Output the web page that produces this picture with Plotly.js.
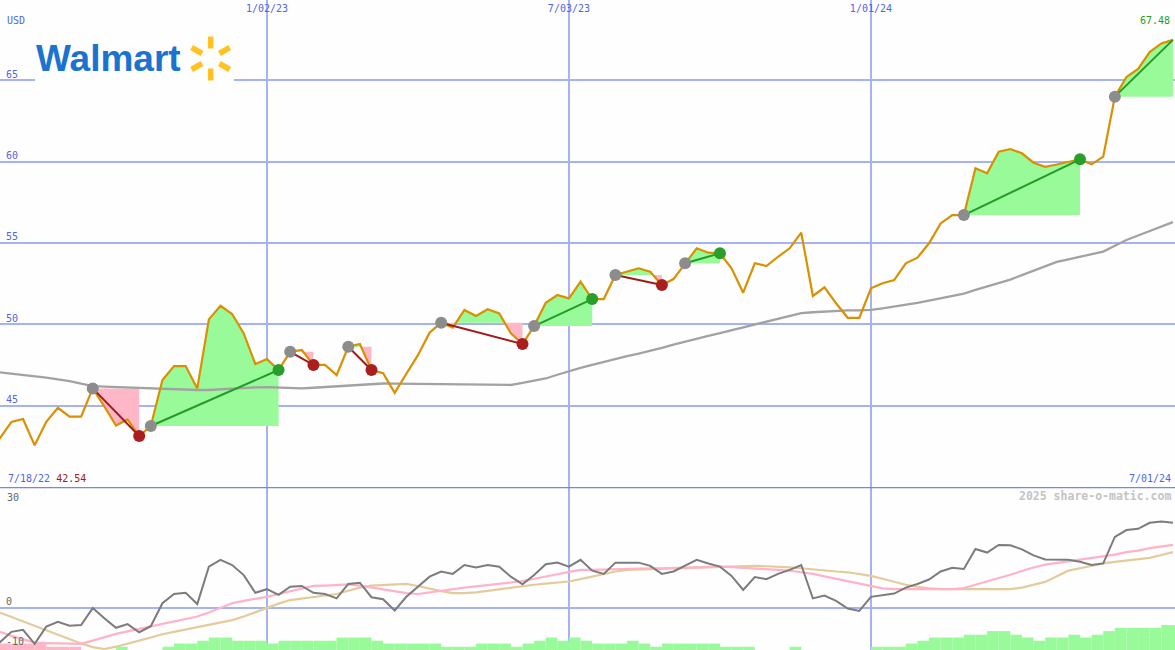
<!DOCTYPE html>
<html>
<head>
<meta charset="utf-8">
<script src="https://cdn.plot.ly/plotly-3.0.1.min.js"></script>
<style>html,body{margin:0;padding:0;background:#fdfefd;}#chart{width:1175px;height:650px;}</style>
</head>
<body>
<div id="chart"></div>
<script>
// ---- data (weekly, from 7/18/22) ----
const firstWeek = Date.UTC(2022, 6, 18);
const WEEK = 7 * 86400000;
const weekCount = 103;
const dates = [];
for (let i = 0; i < weekCount; i++) dates.push(firstWeek + i * WEEK);

const price = [42.54,42.99,44.00,44.18,42.56,44.01,44.87,44.32,44.32,46.06,
  44.95,43.78,44.15,43.13,43.75,46.57,47.43,47.43,46.06,50.30,
  51.14,50.63,49.44,47.56,47.86,47.19,48.31,48.42,47.50,47.50,
  46.88,48.62,48.79,47.19,46.99,45.79,46.96,48.10,49.48,50.10,
  49.79,50.88,50.51,50.92,50.67,49.44,48.79,49.89,51.32,51.80,
  51.59,52.62,51.55,51.55,53.03,53.23,53.44,53.23,52.41,52.78,
  53.75,54.67,54.40,54.36,53.44,51.94,53.75,53.58,54.15,54.67,
  55.63,51.74,52.27,51.29,50.40,50.40,52.21,52.52,52.72,53.75,
  54.09,54.98,56.20,56.71,56.71,59.59,59.28,60.61,60.77,60.51,
  59.93,59.68,59.82,59.99,60.14,59.83,60.30,63.99,65.20,65.69,
  66.73,67.26,67.48];

const ma40 = [47.13,47.05,46.98,46.90,46.82,46.72,46.61,46.51,46.35,46.20,
  46.17,46.14,46.12,46.10,46.08,46.04,46.00,45.96,45.96,45.96,
  46.01,46.06,46.09,46.12,46.14,46.11,46.08,46.06,46.10,46.15,
  46.20,46.24,46.28,46.32,46.36,46.35,46.34,46.33,46.32,46.31,
  46.30,46.29,46.29,46.28,46.27,46.27,46.40,46.53,46.67,46.90,
  47.13,47.32,47.51,47.70,47.89,48.05,48.20,48.36,48.55,48.75,
  48.94,49.11,49.29,49.46,49.63,49.81,49.98,50.16,50.34,50.51,
  50.69,50.74,50.78,50.83,50.85,50.86,50.88,50.98,51.08,51.18,
  51.32,51.46,51.61,51.75,51.89,52.11,52.32,52.54,52.75,53.02,
  53.29,53.56,53.83,53.99,54.15,54.31,54.47,54.83,55.18,55.46,
  55.73,56.00,56.28];

const osc = [-9.5,-8.6,-6.0,-5.5,-9.0,-4.7,-3.5,-4.5,-4.3,-0.1,
  -2.6,-5.0,-4.1,-6.1,-4.6,1.1,3.4,3.7,0.9,10.2,
  11.9,10.6,8.1,3.7,4.6,3.2,5.2,5.4,3.7,3.4,
  2.3,5.9,6.2,2.6,2.1,-0.7,2.7,5.1,7.7,9.0,
  8.4,10.6,10.0,10.6,10.2,7.7,5.8,8.1,10.8,11.2,
  10.2,11.9,9.2,8.4,11.2,11.2,11.2,10.4,8.4,9.0,
  10.4,11.9,11.0,10.2,7.9,4.4,7.6,7.1,8.4,9.4,
  10.6,2.3,3.0,1.7,-0.2,-0.8,2.7,3.1,3.5,5.0,
  5.9,7.0,9.0,9.9,9.6,14.6,13.7,15.6,15.5,14.5,
  13.0,12.0,11.9,11.9,11.4,10.6,11.0,17.6,19.3,19.6,
  21.1,21.4,21.1];

const oscFast = [-5.5,-6.0,-7.0,-7.9,-8.7,-8.8,-8.9,-9.0,-9.0,-8.2,
  -7.3,-6.5,-5.9,-5.3,-4.7,-4.1,-3.4,-2.8,-2.2,-1.2,
  0.0,1.1,1.7,2.2,2.7,3.4,4.1,4.8,5.4,5.5,
  5.6,5.8,5.5,5.0,4.5,4.0,3.6,3.4,3.8,4.3,
  4.7,5.0,5.3,5.6,5.9,6.2,6.6,7.2,7.7,8.3,
  8.9,9.4,9.4,9.5,9.6,9.6,9.7,9.8,9.8,9.9,
  10.0,10.0,10.1,10.2,10.1,9.9,9.7,9.5,9.4,9.2,
  8.8,8.4,7.8,7.2,6.6,5.9,5.3,4.8,4.6,4.6,
  4.6,4.6,4.6,4.6,4.9,5.7,6.5,7.4,8.2,9.1,
  10.0,10.7,11.1,11.5,11.9,12.3,12.8,13.2,13.8,14.2,
  14.8,15.2,15.6];

const oscSlow = [-0.1,-1.2,-2.3,-3.4,-4.5,-5.6,-6.8,-7.9,-8.9,-9.8,
  -10.3,-9.7,-9.0,-8.2,-7.4,-6.6,-6.0,-5.4,-4.8,-4.2,
  -3.7,-3.1,-2.2,-1.1,0.0,1.0,1.9,2.3,2.6,3.0,
  3.4,4.2,5.0,5.5,5.6,5.7,5.9,5.4,4.7,4.1,
  3.6,3.6,3.8,4.2,4.6,5.0,5.4,5.7,6.0,6.2,
  6.5,7.1,7.7,8.4,9.0,9.4,9.5,9.6,9.6,9.7,
  9.8,9.9,10.0,10.2,10.3,10.4,10.4,10.3,10.2,10.0,
  9.8,9.5,9.3,9.0,8.8,8.4,7.9,7.2,6.5,5.7,
  5.2,4.8,4.6,4.6,4.6,4.6,4.6,4.6,4.6,5.0,
  5.7,6.4,7.8,9.2,9.8,10.4,11.0,11.4,11.7,12.0,
  12.4,13.1,13.8];

const hist = [-1.6,-1.6,-1.6,-1.6,-1.6,-0.8,-0.8,-0.8,0,0,
  0,0.8,0,0,0,0.8,1.6,1.6,2.3,3.1,
  3.1,2.3,2.3,2.3,1.6,2.3,2.3,2.3,2.3,2.3,
  3.1,3.1,3.1,2.3,1.6,1.6,1.6,1.6,1.6,0.8,
  0.8,0.8,1.6,1.6,1.6,0.8,1.6,2.3,3.1,2.3,
  3.1,2.3,1.6,1.6,1.6,2.3,1.6,0.8,1.6,1.6,
  1.6,1.6,1.6,0.8,0.8,0.8,0,0,0,0.8,
  0,0,0,0,0,0,0.8,0.8,0.8,1.6,
  2.3,3.1,3.1,3.1,3.8,3.8,4.7,4.7,3.8,3.1,
  2.3,3.1,3.1,3.8,3.1,3.8,4.7,5.5,5.5,5.5,
  5.5,6.2,6.2];

// swing segments: [start week, end week, closed?]
const swingStart = [9, 14, 26, 31, 39, 47, 54, 60, 84, 97];
const swingEnd   = [13, 25, 28, 33, 46, 52, 58, 63, 94, 102];
const swingClosed = [true,true,true,true,true,true,true,true,true,false];

const xTickVals = [Date.UTC(2023,0,2), Date.UTC(2023,6,3), Date.UTC(2024,0,1)];
const xTickText = ['1/02/23', '7/03/23', '1/01/24'];
const priceTicks = [45, 50, 55, 60, 65];
const oscGridTicks = [0];
const oscLabelTicks = [30, -10];

// ---- styles ----
const BG = '#fdfefd';
const GRID = '#a6b3f2';
const BLUE_TXT = '#5066e8';
const GRAY_TXT = '#666666';
const MONO = 'DejaVu Sans Mono, monospace';
const GREEN_FILL = '#98fa98';
const PINK_FILL = '#ffb6c6';
const OSC_BOTTOM = -10.52;

const traces = [];

// swing fills
function segPoints(a, b, L) {
  const xs = [], ys = [];
  for (let k = a; k <= b; k++) {
    xs.push(dates[k]); ys.push(price[k]);
    if (k < b) {
      const p0 = price[k] - L, p1 = price[k + 1] - L;
      if (p0 * p1 < 0) {
        const t = -p0 / (p1 - p0);
        xs.push(dates[k] + t * (dates[k + 1] - dates[k]));
        ys.push(L);
      }
    }
  }
  return {xs, ys};
}
for (let s = 0; s < swingStart.length; s++) {
  const a = swingStart[s], b = swingEnd[s], L = price[a];
  const {xs, ys} = segPoints(a, b, L);
  const base = xs.map(() => L);
  const common = {xaxis: 'x', yaxis: 'y', mode: 'lines', line: {width: 0}, hoverinfo: 'skip'};
  traces.push(Object.assign({x: xs, y: base}, common));
  traces.push(Object.assign({x: xs, y: ys.map(v => Math.max(v, L)), fill: 'tonexty', fillcolor: GREEN_FILL}, common));
  traces.push(Object.assign({x: xs, y: base}, common));
  traces.push(Object.assign({x: xs, y: ys.map(v => Math.min(v, L)), fill: 'tonexty', fillcolor: PINK_FILL}, common));
}

// moving average
traces.push({x: dates, y: ma40, xaxis: 'x', yaxis: 'y', mode: 'lines', line: {color: '#a2a2a2', width: 2.3}, hoverinfo: 'skip'});
// price
traces.push({x: dates, y: price, xaxis: 'x', yaxis: 'y', mode: 'lines', line: {color: '#da9000', width: 2.2}, hoverinfo: 'skip'});

// swing connectors and markers
const mx = [], my = [], mc = [];
for (let s = 0; s < swingStart.length; s++) {
  const a = swingStart[s], b = swingEnd[s];
  const up = price[b] >= price[a];
  traces.push({x: [dates[a], dates[b]], y: [price[a], price[b]], xaxis: 'x', yaxis: 'y', mode: 'lines',
    line: {color: up ? '#259a25' : '#a01c1c', width: 2}, hoverinfo: 'skip'});
  mx.push(dates[a]); my.push(price[a]); mc.push('#8c8c8c');
  if (swingClosed[s]) { mx.push(dates[b]); my.push(price[b]); mc.push(up ? '#2a9e2a' : '#aa1e1e'); }
}
traces.push({x: mx, y: my, xaxis: 'x', yaxis: 'y', mode: 'markers', marker: {color: mc, size: 12, line: {width: 0}}, hoverinfo: 'skip'});

// lower panel
traces.push({type: 'bar', x: dates, y: hist.map(Math.abs), base: OSC_BOTTOM, offset: 0, width: WEEK,
  xaxis: 'x2', yaxis: 'y2', marker: {color: hist.map(v => v < 0 ? PINK_FILL : GREEN_FILL), line: {width: 0}}, hoverinfo: 'skip'});
traces.push({x: dates, y: oscSlow, xaxis: 'x2', yaxis: 'y2', mode: 'lines', line: {color: '#e4cb9c', width: 2.2}, hoverinfo: 'skip'});
traces.push({x: dates, y: oscFast, xaxis: 'x2', yaxis: 'y2', mode: 'lines', line: {color: '#ffb2c8', width: 2.2}, hoverinfo: 'skip'});
traces.push({x: dates, y: osc, xaxis: 'x2', yaxis: 'y2', mode: 'lines', line: {color: '#7c7c7c', width: 2}, hoverinfo: 'skip'});

// ---- layout ----
const W = 1175, H = 650;
const px = v => v / W, py = v => 1 - v / H;
const fmtDate = ms => { const d = new Date(ms); return (d.getUTCMonth() + 1) + '/' + String(d.getUTCDate()).padStart(2, '0') + '/' + String(d.getUTCFullYear()).slice(2); };
const xRange = [Date.UTC(2022, 6, 25, 2, 40), Date.UTC(2024, 6, 2, 6, 0)];
const split = 1 - 487 / H;

const shapes = [
  {type: 'line', xref: 'paper', yref: 'y2', x0: 0, x1: 1, y0: 30, y1: 30, line: {color: '#7486ee', width: 2.5}},
  {type: 'rect', xref: 'paper', yref: 'paper', x0: px(35), x1: px(234), y0: py(84), y1: py(32), fillcolor: BG, line: {width: 0}, layer: 'above'}
];
// spark petals
const cx = 210.7, cy = 58.5;
[90, 30, -30, -90, 150, 210].forEach(deg => {
  const r = deg * Math.PI / 180;
  shapes.push({type: 'line', xref: 'paper', yref: 'paper', layer: 'above',
    x0: px(cx + 10 * Math.cos(r)), y0: py(cy - 10 * Math.sin(r)),
    x1: px(cx + 22 * Math.cos(r)), y1: py(cy - 22 * Math.sin(r)),
    line: {color: '#ffc220', width: 5.5}});
});

const minPrice = Math.min(...price);
const annotations = [
  {xref: 'paper', yref: 'paper', x: px(5), y: py(21), xanchor: 'left', yanchor: 'middle', showarrow: false,
    text: 'USD', font: {family: MONO, size: 10, color: BLUE_TXT}},
  {xref: 'paper', yref: 'paper', x: px(34), y: py(59), xanchor: 'left', yanchor: 'middle', showarrow: false,
    text: '<b>Walmart</b>', font: {family: 'Liberation Sans, Arial, sans-serif', size: 37, color: '#1a73cf'}},
  {xref: 'paper', yref: 'paper', x: px(1172), y: py(20), xanchor: 'right', yanchor: 'middle', showarrow: false,
    text: price[price.length - 1].toFixed(2), font: {family: MONO, size: 10, color: '#22a022'}},
  {xref: 'paper', yref: 'paper', x: px(6), y: py(478), xanchor: 'left', yanchor: 'middle', showarrow: false,
    text: '<span style="color:' + BLUE_TXT + '">' + fmtDate(dates[0]) + '</span> <span style="color:#a01818">' + minPrice.toFixed(2) + '</span>',
    font: {family: MONO, size: 10, color: BLUE_TXT}},
  {xref: 'paper', yref: 'paper', x: px(1173), y: py(478), xanchor: 'right', yanchor: 'middle', showarrow: false,
    text: fmtDate(dates[dates.length - 1]), font: {family: MONO, size: 10, color: BLUE_TXT}},
  {xref: 'paper', yref: 'paper', x: px(1173), y: py(496), xanchor: 'right', yanchor: 'middle', showarrow: false,
    text: '<b>2025 share-o-matic.com</b>', font: {family: MONO, size: 11.5, color: '#c4c4c4'}},
  {xref: 'paper', yref: 'y2', x: px(5), y: oscLabelTicks[0], xanchor: 'left', yanchor: 'top', yshift: -3, showarrow: false,
    text: String(oscLabelTicks[0]), font: {family: MONO, size: 10, color: GRAY_TXT}},
  {xref: 'paper', yref: 'y2', x: px(4), y: oscLabelTicks[1], xanchor: 'left', yanchor: 'middle', yshift: 6, showarrow: false,
    text: String(oscLabelTicks[1]), font: {family: MONO, size: 10, color: GRAY_TXT}}
];

const layout = {
  width: W, height: H,
  margin: {l: 0, r: 0, t: 0, b: 0, pad: 0},
  paper_bgcolor: BG, plot_bgcolor: BG,
  showlegend: false,
  hovermode: false,
  xaxis: {type: 'date', range: xRange, domain: [0, 1], anchor: 'y', side: 'top',
    tickmode: 'array', tickvals: xTickVals, ticktext: xTickText,
    ticklabelposition: 'inside', ticklabelstandoff: 2, ticks: '', showline: false, zeroline: false,
    showgrid: true, gridcolor: GRID, gridwidth: 2,
    tickfont: {family: MONO, size: 10, color: BLUE_TXT}},
  yaxis: {range: [40, 69.93], domain: [split, 1], anchor: 'x',
    tickmode: 'array', tickvals: priceTicks, ticktext: priceTicks.map(String),
    ticklabelposition: 'inside', ticklabelshift: -6, ticklabelstandoff: 3, ticks: '', showline: false, zeroline: false,
    showgrid: true, gridcolor: GRID, gridwidth: 2,
    tickfont: {family: MONO, size: 10, color: BLUE_TXT}},
  xaxis2: {type: 'date', range: xRange, domain: [0, 1], anchor: 'y2', matches: 'x',
    tickmode: 'array', tickvals: xTickVals, showticklabels: false, ticks: '',
    showline: false, zeroline: false, showgrid: true, gridcolor: GRID, gridwidth: 2},
  yaxis2: {range: [OSC_BOTTOM, 30], domain: [0, split], anchor: 'x2',
    tickmode: 'array', tickvals: oscGridTicks, ticktext: oscGridTicks.map(String),
    ticklabelposition: 'inside', ticklabelshift: -6, ticklabelstandoff: 3, ticks: '', showline: false, zeroline: false,
    showgrid: true, gridcolor: GRID, gridwidth: 2,
    tickfont: {family: MONO, size: 10, color: GRAY_TXT}},
  shapes: shapes,
  annotations: annotations
};

Plotly.newPlot('chart', traces, layout, {displayModeBar: false, staticPlot: true});
</script>
</body>
</html>
